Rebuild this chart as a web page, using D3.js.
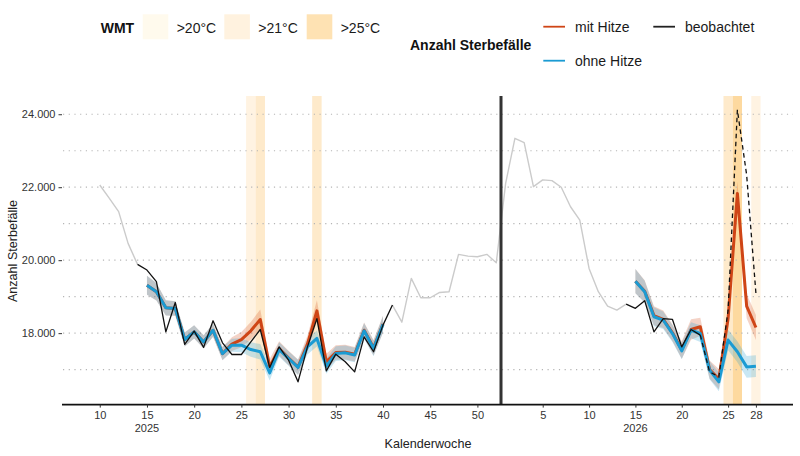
<!DOCTYPE html>
<html><head><meta charset="utf-8">
<script src="https://cdn.jsdelivr.net/npm/d3@7"></script>
<style>
body{margin:0;background:#fff;}
text{font-family:"Liberation Sans",Arial,Helvetica,sans-serif;}
</style>
</head><body>
<svg id="chart" width="800" height="456"></svg>
<script>
// ---------------- DATA ----------------
// week numbers per year (Kalenderwoche)
const greyA_kw2025 = [10,11,12,13,14];
const greyA_vals   = [22060,21700,21330,20460,19885];
const greyB_kw2025 = [41,42,43,44,45,46,47,48,49,50,51,52];
const greyB_kw2026 = [1,2,3,4,5,6,7,8,9,10,11,12,13,14];
const greyB_vals   = [18770,18300,19500,18970,18970,19115,19135,20160,20110,20095,20160,19930,
                      22105,23340,23220,22015,22200,22180,22000,21465,21100,19775,19135,18740,18630,18795];

const obs2025_kw   = [14,15,16,17,18,19,20,21,22,23,24,25,26,27,28,29,30,31,32,33,34,35,36,37,38,39,40,41];
const obs2025_vals = [19885,19730,19410,18035,18840,17690,18055,17610,18340,17735,17415,17415,17760,18100,
                      17060,17625,17260,16665,17625,18400,16965,17425,17215,16940,17900,17490,18220,18770];
const obs2026_kw   = [14,15,16,17,18,19,20,21,22];
const obs2026_vals = [18795,18680,18890,18035,18400,18375,17625,18100,17945];
const obs2026p_kw  = [22,23,24,25,26,27,28];          // preliminary (dashed)
const obs2026p_vals= [17945,16940,16800,18630,24120,22335,19090];

const mod2025_kw   = [15,16,17,18,19,20,21,22,23,24,25,26,27,28,29,30,31,32,33,34,35,36,37,38,39,40];
const ohne2025     = [19315,19135,18695,18675,17825,18035,17760,18080,17440,17670,17670,17550,17490,
                      16910,17550,17305,17060,17625,17855,17095,17440,17460,17400,18065,17580,18240];
const ohne2025_ci  = [260,240,210,200,190,180,180,180,180,180,190,200,210,210,200,200,210,210,220,210,
                      200,200,200,210,210,230];
const mit2025      = [19315,19135,18695,18675,17825,18035,17760,18080,17440,17700,17825,18065,18375,
                      17075,17580,17320,17070,17700,18610,17215,17470,17480,17420,18080,17600,18250];
const mit2025_ci   = [260,240,210,200,190,180,180,180,180,190,210,240,270,220,200,200,210,230,290,220,
                      200,200,200,210,210,230];

const mod2026_kw   = [15,16,17,18,19,20,21,22,23,24,25,26,27,28];
const ohne2026     = [19425,19135,18450,18355,17990,17515,18080,17990,16985,16665,17810,17490,17075,17095];
const ohne2026_ci  = [330,300,260,240,230,230,220,230,250,260,280,290,300,300];
const mit2026      = [19425,19150,18480,18380,18010,17540,18100,18175,17000,16740,18400,21830,18740,18155];
const mit2026_ci   = [330,300,260,240,230,240,280,250,250,280,300,330,330,340];

// heat weeks (WMT level: 1 = >20°C, 2 = >21°C, 3 = >25°C)
const heatYear  = [2025,2025,2025,2026,2026,2026];
const heatKW    = [26,27,33,25,26,28];
const heatLevel = [1,2,2,2,3,1];

const wmtLabels   = [">20°C", ">21°C", ">25°C"];
const wmtColors   = ["#fff3e2", "#feeacb", "#fdd99f"];
const wmtLegendColors = ["#fffaed", "#fff2df", "#fee2b3"];

const yTicks = [18000, 20000, 22000, 24000];
const yGrid  = [17000,18000,19000,20000,21000,22000,23000,24000];
const xTickYear = [2025,2025,2025,2025,2025,2025,2025,2025,2025,2026,2026,2026,2026,2026,2026];
const xTickKW   = [10,15,20,25,30,35,40,45,50,5,10,15,20,25,28];
const yearLabels = [{year:2025, kw:15}, {year:2026, kw:15}];

// ---------------- SETUP ----------------
const yearOffset = {2025: 0, 2026: 52};
const idx = (yr, kw) => yearOffset[yr] + kw;

const svg = d3.select("#chart");
const x = d3.scaleLinear().domain([6, 52.5, 84]).range([62, 501, 793]);
const y = d3.scaleLinear().domain([16050, 24500]).range([404.3, 96]);
const plotTop = y.range()[1], plotBottom = y.range()[0];

const red = "#cf4516", blue = "#1b9bd3";

// heat bands
heatKW.forEach((kw, i) => {
  const c = idx(heatYear[i], kw);
  svg.append("rect")
    .attr("x", x(c - 0.5)).attr("y", plotTop)
    .attr("width", x(c + 0.5) - x(c - 0.5)).attr("height", plotBottom - plotTop)
    .attr("fill", wmtColors[heatLevel[i] - 1]);
});

// gridlines
svg.append("g").selectAll("line").data(yGrid).join("line")
  .attr("x1", 63).attr("x2", 793)
  .attr("y1", d => y(d)).attr("y2", d => y(d))
  .attr("stroke", "#b5b5b5").attr("stroke-width", 1.2)
  .attr("stroke-dasharray", "1.2,4.5");

// helpers
const pts = (yr, kws, vals) => kws.map((k, i) => ({x: idx(Array.isArray(yr) ? yr[i] : yr, k), v: vals[i]}));
const line = d3.line().x(d => x(d.x)).y(d => y(d.v)).curve(d3.curveLinear);
const area = d3.area().x(d => x(d.x)).y0(d => y(d.v - d.ci)).y1(d => y(d.v + d.ci));
const ribbonPts = (yr, kws, vals, ci) => kws.map((k, i) => ({x: idx(yr, k), v: vals[i], ci: ci[i]}));

// grey historical lines
const greyBYears = greyB_kw2025.map(() => 2025).concat(greyB_kw2026.map(() => 2026));
const greyBkw = greyB_kw2025.concat(greyB_kw2026);
[pts(2025, greyA_kw2025, greyA_vals), pts(greyBYears, greyBkw, greyB_vals)].forEach(s => {
  svg.append("path").datum(s).attr("d", line)
    .attr("fill", "none").attr("stroke", "#cbcbcb").attr("stroke-width", 1.4)
    .attr("stroke-linejoin", "round");
});

// separator line between years
svg.append("line").attr("x1", x(52.5)).attr("x2", x(52.5))
  .attr("y1", plotTop).attr("y2", plotBottom)
  .attr("stroke", "#333").attr("stroke-width", 3);

// ribbons
const ribbons = [
  [2025, mod2025_kw, mit2025, mit2025_ci, red],
  [2026, mod2026_kw, mit2026, mit2026_ci, red],
  [2025, mod2025_kw, ohne2025, ohne2025_ci, blue],
  [2026, mod2026_kw, ohne2026, ohne2026_ci, blue]
];
ribbons.forEach(r => {
  svg.append("path").datum(ribbonPts(r[0], r[1], r[2], r[3])).attr("d", area)
    .attr("fill", r[4]).attr("fill-opacity", 0.24).attr("stroke", "none");
});

// model lines
[[2025, mod2025_kw, mit2025, red], [2026, mod2026_kw, mit2026, red],
 [2025, mod2025_kw, ohne2025, blue], [2026, mod2026_kw, ohne2026, blue]].forEach(s => {
  svg.append("path").datum(pts(s[0], s[1], s[2])).attr("d", line)
    .attr("fill", "none").attr("stroke", s[3]).attr("stroke-width", 3)
    .attr("stroke-linejoin", "round");
});

// observed lines
svg.append("path").datum(pts(2025, obs2025_kw, obs2025_vals)).attr("d", line)
  .attr("fill", "none").attr("stroke", "#111").attr("stroke-width", 1.3).attr("stroke-linejoin", "round");
svg.append("path").datum(pts(2026, obs2026_kw, obs2026_vals)).attr("d", line)
  .attr("fill", "none").attr("stroke", "#111").attr("stroke-width", 1.3).attr("stroke-linejoin", "round");
svg.append("path").datum(pts(2026, obs2026p_kw, obs2026p_vals)).attr("d", line)
  .attr("fill", "none").attr("stroke", "#111").attr("stroke-width", 1.3)
  .attr("stroke-dasharray", "4.5,3.5");

// axes
const de = d3.formatLocale({decimal: ",", thousands: ".", grouping: [3], currency: ["", "€"]});
const yAxis = d3.axisLeft(y).tickValues(yTicks).tickSize(3.5).tickPadding(3)
  .tickFormat(de.format(",.0f"));
const gy = svg.append("g").attr("transform", "translate(62,0)").call(yAxis);
gy.select(".domain").remove();
gy.selectAll(".tick line").attr("stroke", "#333").attr("stroke-width", 1);
gy.selectAll(".tick text").attr("fill", "#333").style("font-size", "11px")
  .style("font-family", "'Liberation Sans', Arial, sans-serif");

const xTickPos = xTickKW.map((k, i) => idx(xTickYear[i], k));
const xAxis = d3.axisBottom(x).tickValues(xTickPos).tickSize(3).tickPadding(4)
  .tickFormat((d, i) => String(xTickKW[i]));
const gx = svg.append("g").attr("transform", `translate(0,${plotBottom + 0.3})`).call(xAxis);
gx.select(".domain").attr("stroke", "#111").attr("stroke-width", 1.6)
  .attr("d", "M62,0H793");
gx.selectAll(".tick line").attr("stroke", "#333");
gx.selectAll(".tick text").attr("fill", "#333").style("font-size", "11px")
  .style("font-family", "'Liberation Sans', Arial, sans-serif");

// year labels
svg.append("g").selectAll("text").data(yearLabels).join("text")
  .attr("x", d => x(idx(d.year, d.kw))).attr("y", 432)
  .attr("text-anchor", "middle").attr("fill", "#333").style("font-size", "11px")
  .text(d => d.year);

// axis titles
svg.append("text").attr("x", 428).attr("y", 447.5).attr("text-anchor", "middle")
  .attr("fill", "#222").style("font-size", "12.6px").text("Kalenderwoche");
svg.append("text").attr("transform", "translate(16.5,251) rotate(-90)")
  .attr("text-anchor", "middle").attr("fill", "#222").style("font-size", "12.6px")
  .text("Anzahl Sterbefälle");

// ---------------- LEGENDS ----------------
svg.append("text").attr("x", 100.7).attr("y", 32.7).style("font-size", "14px")
  .style("font-weight", "bold").attr("fill", "#111").text("WMT");
const swX = [142.7, 224.3, 306.7];
wmtLabels.forEach((lab, i) => {
  svg.append("rect").attr("x", swX[i]).attr("y", 14.3).attr("width", 25.6).attr("height", 25)
    .attr("fill", wmtLegendColors[i]);
  svg.append("text").attr("x", swX[i] + 34).attr("y", 32.7).style("font-size", "14px")
    .attr("fill", "#1a1a1a").text(lab);
});

svg.append("text").attr("x", 410).attr("y", 50).style("font-size", "14px")
  .style("font-weight", "bold").attr("fill", "#111").text("Anzahl Sterbefälle");
const lineLegend = [
  {label: "mit Hitze", color: red, lx: 543.3, ly: 26.7},
  {label: "beobachtet", color: "#222", lx: 653.3, ly: 26.7},
  {label: "ohne Hitze", color: blue, lx: 543.3, ly: 60.7}
];
lineLegend.forEach(d => {
  svg.append("line").attr("x1", d.lx).attr("x2", d.lx + 21.7).attr("y1", d.ly).attr("y2", d.ly)
    .attr("stroke", d.color).attr("stroke-width", 1.8);
  svg.append("text").attr("x", d.lx + 31.7).attr("y", d.ly + 5).style("font-size", "14px")
    .attr("fill", "#1a1a1a").text(d.label);
});
</script>
</body></html>
